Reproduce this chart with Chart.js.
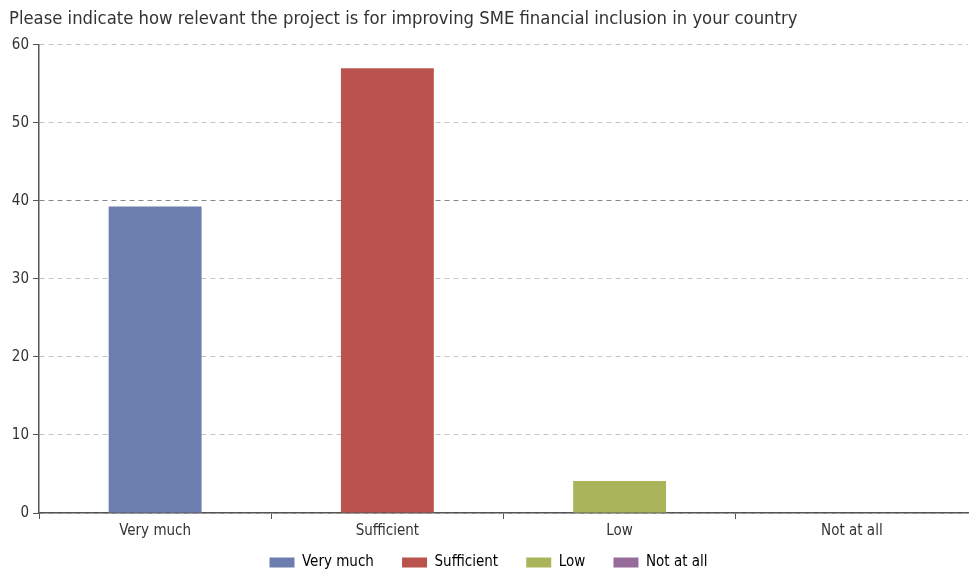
<!DOCTYPE html>
<html>
<head>
<meta charset="utf-8">
<script src="https://cdn.jsdelivr.net/npm/chart.js@4.4.0/dist/chart.umd.min.js"></script>
<style>
  html, body { margin: 0; padding: 0; background: #fff; }
  #wrap { width: 970px; height: 571px; }
</style>
</head>
<body>
<div id="wrap"><canvas id="grafica"></canvas></div>
<script>
// Datos
const categorias = ["Very much", "Sufficient", "Low", "Not at all"];
const valores = [39.3, 57.0, 4.1, 0];
const colores = ["#6c7ead", "#ba534d", "#aab55b", "#976b9a"];
const titulo = "Please indicate how relevant the project is for improving SME financial inclusion in your country";

const fuente = "'Liberation Sans Narrow', 'DejaVu Sans Condensed', 'Arial Narrow', sans-serif";
Chart.defaults.font.family = fuente;
Chart.defaults.color = "#333";

const ctx = document.getElementById("grafica").getContext("2d");
new Chart(ctx, {
  type: "bar",
  data: {
    labels: categorias,
    datasets: [{
      label: "Respuestas",
      data: valores,
      backgroundColor: colores,
      borderWidth: 0,
      barPercentage: 0.4,
      categoryPercentage: 1
    }]
  },
  options: {
    responsive: true,
    maintainAspectRatio: false,
    animation: false,
    // el padding inferior negativo baja la leyenda hasta el borde
    layout: { padding: { left: 9, right: 2, top: 0, bottom: -9 } },
    plugins: {
      title: {
        display: true,
        text: titulo,
        align: "start",
        color: "#333",
        font: { size: 18.3, weight: "normal" },
        padding: { top: 8, bottom: 15 }
      },
      legend: {
        position: "bottom",
        labels: {
          boxWidth: 25,
          boxHeight: 10,
          padding: 12,
          color: "#333",
          font: { size: 15 },
          // una entrada por categoría; espacios al final para separar más las entradas
          generateLabels: () => categorias.map((c, i) => ({
            text: i < categorias.length - 1 ? c + "\u2002\u2002\u2009" : c,
            fillStyle: colores[i],
            strokeStyle: colores[i],
            lineWidth: 0,
            hidden: false,
            index: i
          }))
        },
        onClick: () => {}
      },
      tooltip: { enabled: false }
    },
    scales: {
      x: {
        offset: true,
        grid: {
          offset: true,
          drawOnChartArea: false,
          drawTicks: true,
          tickLength: 6,
          tickColor: (c) => (c.tick ? "#555" : "rgba(0,0,0,0)")
        },
        border: { display: true, color: "#555", width: 1.5 },
        ticks: { color: "#333", font: { size: 15 }, padding: 3 }
      },
      y: {
        min: 0,
        max: 60,
        ticks: { stepSize: 10, color: "#333", font: { size: 15 }, padding: 4 },
        grid: {
          drawTicks: true,
          tickLength: 6,
          tickColor: "#555",
          color: (c) => (c.tick && c.tick.value === 40 ? "#888" : "#c4c4c4"),
          lineWidth: 1
        },
        border: { display: true, color: "#555", width: 1.5, dash: [5, 4] },
        afterFit: (scale) => { scale.width = 30; }
      }
    }
  }
});
</script>
</body>
</html>
